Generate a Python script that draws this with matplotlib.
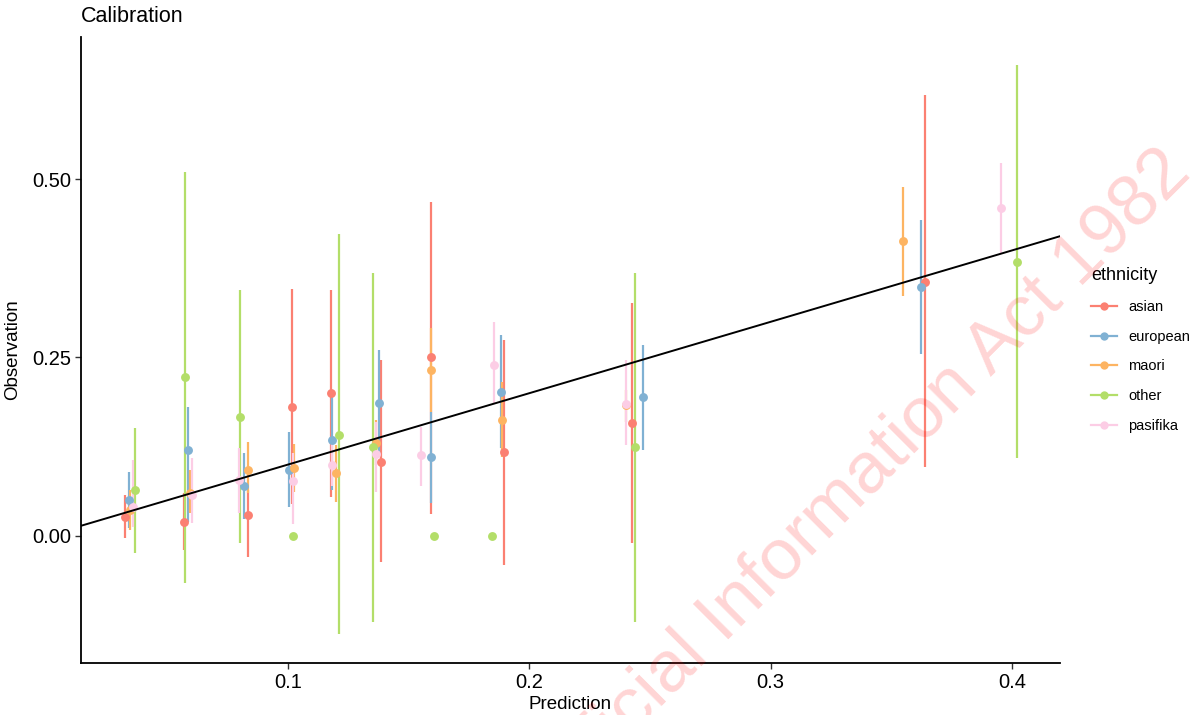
import matplotlib
matplotlib.use("Agg")
import matplotlib.pyplot as plt
from matplotlib.lines import Line2D

plt.rcParams['font.family'] = ['Liberation Sans', 'DejaVu Sans']

ethnicities = ["asian", "european", "maori", "other", "pasifika"]
colors = {"asian": "#FB8072", "european": "#80B1D3", "maori": "#FDB462",
          "other": "#B3DE69", "pasifika": "#FCCDE5"}

# prediction (x), observation (y), lower and upper interval
asian_x = [0.0324, 0.0570, 0.0835, 0.1015, 0.1178, 0.1384, 0.1593, 0.1896, 0.2426, 0.3640]
asian_y = [0.027, 0.019, 0.030, 0.181, 0.200, 0.104, 0.250, 0.117, 0.158, 0.356]
asian_lo = [-0.003, -0.020, -0.029, 0.045, 0.055, -0.037, 0.031, -0.041, -0.010, 0.096]
asian_hi = [0.057, 0.060, 0.065, 0.346, 0.345, 0.246, 0.468, 0.275, 0.326, 0.618]

european_x = [0.0342, 0.0587, 0.0818, 0.1004, 0.1182, 0.1376, 0.1591, 0.1881, 0.2470, 0.3622]
european_y = [0.050, 0.120, 0.070, 0.092, 0.134, 0.186, 0.111, 0.201, 0.194, 0.349]
european_lo = [0.011, 0.020, 0.024, 0.040, 0.064, 0.111, 0.046, 0.123, 0.120, 0.255]
european_hi = [0.090, 0.181, 0.116, 0.145, 0.200, 0.261, 0.174, 0.281, 0.267, 0.443]

maori_x = [0.0345, 0.0594, 0.0834, 0.1025, 0.1198, 0.1365, 0.1591, 0.1888, 0.2401, 0.3550]
maori_y = [0.037, 0.060, 0.093, 0.095, 0.088, 0.130, 0.232, 0.163, 0.183, 0.413]
maori_lo = [0.008, 0.032, 0.060, 0.062, 0.047, 0.100, 0.174, 0.111, 0.160, 0.336]
maori_hi = [0.064, 0.092, 0.132, 0.129, 0.127, 0.162, 0.291, 0.216, 0.205, 0.489]

other_x = [0.0366, 0.0573, 0.0801, 0.1019, 0.1211, 0.1351, 0.1605, 0.1844, 0.2439, 0.4020]
other_y = [0.064, 0.222, 0.166, 0.000, 0.142, 0.124, 0.000, 0.000, 0.124, 0.384]
other_lo = [-0.024, -0.066, -0.010, 0.000, -0.137, -0.120, 0.000, 0.000, -0.120, 0.109]
other_hi = [0.151, 0.510, 0.345, 0.000, 0.423, 0.369, 0.000, 0.000, 0.369, 0.660]

pasifika_x = [0.0356, 0.0603, 0.0798, 0.1019, 0.1181, 0.1363, 0.1551, 0.1855, 0.2401, 0.3954]
pasifika_y = [0.040, 0.058, 0.078, 0.077, 0.100, 0.115, 0.113, 0.240, 0.185, 0.459]
pasifika_lo = [0.013, 0.018, 0.032, 0.017, 0.070, 0.062, 0.070, 0.186, 0.127, 0.396]
pasifika_hi = [0.106, 0.109, 0.123, 0.116, 0.130, 0.160, 0.152, 0.300, 0.246, 0.523]

series = {
    "asian": (asian_x, asian_y, asian_lo, asian_hi),
    "european": (european_x, european_y, european_lo, european_hi),
    "maori": (maori_x, maori_y, maori_lo, maori_hi),
    "other": (other_x, other_y, other_lo, other_hi),
    "pasifika": (pasifika_x, pasifika_y, pasifika_lo, pasifika_hi),
}

fig = plt.figure(figsize=(11.98, 7.15), dpi=100)
ax = fig.add_axes([81/1198, 1-663/715, (1060-81)/1198, (663-37)/715])

for eth in ethnicities:
    xs, ys, lo, hi = series[eth]
    c = colors[eth]
    ax.vlines(xs, lo, hi, colors=c, linewidth=1.6, zorder=2)
    ax.plot(xs, ys, 'o', color=c, markersize=6.4, markeredgewidth=0, zorder=3)

ax.plot([0, 0.5], [0, 0.5], color='black', linewidth=1.4, zorder=4)

ax.set_xlim(0.01422, 0.4199)
ax.set_ylim(-0.178, 0.699)
ax.set_xticks([0.1, 0.2, 0.3, 0.4])
ax.set_xticklabels(["0.1", "0.2", "0.3", "0.4"])
ax.set_yticks([0.0, 0.25, 0.5])
ax.set_yticklabels(["0.00", "0.25", "0.50"])
for s in ["top", "right"]:
    ax.spines[s].set_visible(False)
for s in ["left", "bottom"]:
    ax.spines[s].set_linewidth(1.3)
ax.tick_params(axis='both', labelsize=14.5, length=4, width=1.0, color='#333333', pad=3)
ax.set_xlabel("Prediction", fontsize=13.5, labelpad=3)
ax.set_ylabel("Observation", fontsize=13.5, labelpad=8)
fig.text(81/1198, 1-17/715, "Calibration", fontsize=15.5, ha='left', va='center')

handles = [Line2D([0], [0], color=colors[e], marker='o', markersize=6, linewidth=1.6,
                  markeredgewidth=0) for e in ethnicities]
leg = fig.legend(handles, ethnicities, title="ethnicity", loc='upper left',
                 bbox_to_anchor=(1078/1198, 1-254/715), frameon=False,
                 fontsize=10.5, title_fontsize=13, handlelength=1.8,
                 labelspacing=1.08, handletextpad=0.75, alignment='left')

fig.text(1193/1198, 1-175/715, "Released under the Official Information Act 1982",
         fontsize=52, color=(1, 0, 0, 0.17), rotation=45, rotation_mode='anchor',
         ha='right', va='baseline', zorder=10)

fig.savefig("out.png", dpi=100)
